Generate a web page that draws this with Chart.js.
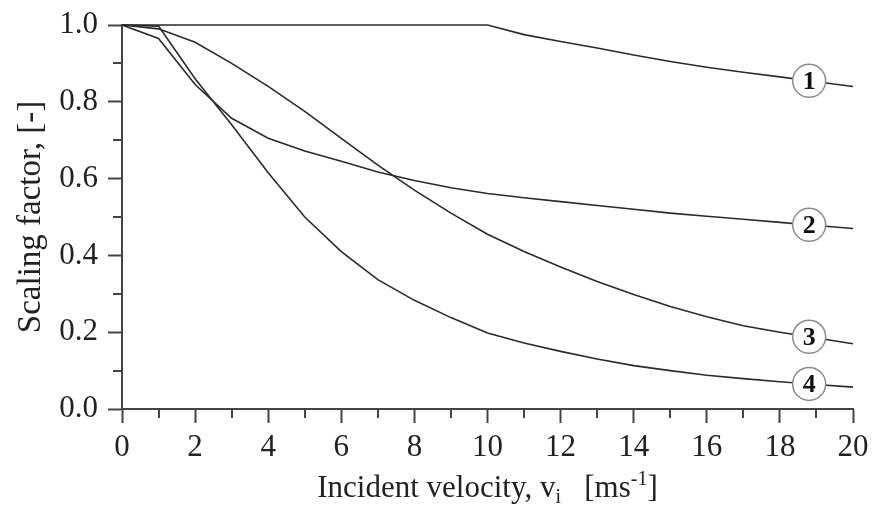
<!DOCTYPE html>
<html>
<head>
<meta charset="utf-8">
<script src="https://cdn.jsdelivr.net/npm/chart.js@4.4.1/dist/chart.umd.min.js"></script>
<style>
  html, body { margin: 0; padding: 0; background: #fff; }
</style>
</head>
<body>
<canvas id="chart" width="872" height="509"></canvas>
<script>
// incident velocity (x) and scaling factor of each curve (y)
const velocity = [0, 1, 2, 3, 4, 5, 6, 7, 8, 9, 10, 11, 12, 13, 14, 15, 16, 17, 18, 19, 20];
const curve1 = [1, 1, 1, 1, 1, 1, 1, 1, 1, 1, 1, 0.975, 0.957, 0.94, 0.922, 0.905, 0.89, 0.877, 0.865, 0.852, 0.84];
const curve2 = [1, 0.965, 0.845, 0.757, 0.705, 0.672, 0.645, 0.617, 0.595, 0.576, 0.561, 0.55, 0.54, 0.53, 0.52, 0.51, 0.502, 0.494, 0.486, 0.478, 0.47];
const curve3 = [1, 0.99, 0.955, 0.9, 0.84, 0.775, 0.705, 0.635, 0.57, 0.51, 0.455, 0.41, 0.37, 0.332, 0.298, 0.267, 0.24, 0.217, 0.2, 0.185, 0.17];
const curve4 = [1, 0.997, 0.86, 0.74, 0.615, 0.5, 0.41, 0.337, 0.283, 0.238, 0.198, 0.172, 0.15, 0.13, 0.113, 0.1, 0.088, 0.079, 0.071, 0.064, 0.057];
const curveLabels = ['1', '2', '3', '4'];
const labelAt = 18.8; // velocity where the numbered circles sit

const serif = '"Liberation Serif", "DejaVu Serif", serif';
const ink = '#222';
const axisGrey = '#444';

function toPoints(ys) {
  return velocity.map((v, i) => ({ x: v, y: ys[i] }));
}

function lineSet(ys) {
  return {
    data: toPoints(ys),
    borderColor: '#2a2a2a',
    borderWidth: 1.6,
    pointRadius: 0,
    tension: 0,
    clip: false
  };
}

// minor ticks, numbered circles, axis titles
const decorations = {
  id: 'decorations',
  afterDatasetsDraw(chart) {
    const { ctx, scales: { x, y }, chartArea } = chart;
    ctx.save();

    // minor ticks (odd x, odd tenths of y)
    ctx.strokeStyle = axisGrey;
    ctx.lineWidth = 2;
    ctx.beginPath();
    for (let v = 1; v < 20; v += 2) {
      const px = Math.round(x.getPixelForValue(v));
      ctx.moveTo(px, chartArea.bottom);
      ctx.lineTo(px, chartArea.bottom + 9);
    }
    for (let k = 1; k < 10; k += 2) {
      const py = Math.round(y.getPixelForValue(k / 10));
      ctx.moveTo(chartArea.left, py);
      ctx.lineTo(chartArea.left - 9, py);
    }
    ctx.stroke();

    // numbered circles on each curve
    chart.data.datasets.forEach((ds, i) => {
      const pts = ds.data;
      let yv = pts[pts.length - 1].y;
      for (let j = 0; j < pts.length - 1; j++) {
        if (labelAt >= pts[j].x && labelAt <= pts[j + 1].x) {
          const t = (labelAt - pts[j].x) / (pts[j + 1].x - pts[j].x);
          yv = pts[j].y + t * (pts[j + 1].y - pts[j].y);
          break;
        }
      }
      const cx = x.getPixelForValue(labelAt);
      const cy = y.getPixelForValue(yv);
      ctx.beginPath();
      ctx.arc(cx, cy, 16.5, 0, Math.PI * 2);
      ctx.fillStyle = '#fff';
      ctx.fill();
      ctx.lineWidth = 1.5;
      ctx.strokeStyle = '#8a8a8a';
      ctx.stroke();
      ctx.fillStyle = '#111';
      ctx.font = 'bold 26px ' + serif;
      ctx.textAlign = 'center';
      ctx.textBaseline = 'middle';
      ctx.fillText(curveLabels[i], cx, cy + 1);
    });

    // y axis title
    ctx.fillStyle = ink;
    ctx.font = '33px ' + serif;
    ctx.textAlign = 'center';
    ctx.textBaseline = 'alphabetic';
    ctx.save();
    ctx.translate(40, (chartArea.top + chartArea.bottom) / 2);
    ctx.rotate(-Math.PI / 2);
    ctx.fillText('Scaling factor, [-]', 0, 0);
    ctx.restore();

    // x axis title with subscript / superscript
    const parts = [
      { t: 'Incident velocity, v', size: 31, dy: 0 },
      { t: 'i', size: 20, dy: 6 },
      { t: '   [ms', size: 31, dy: 0 },
      { t: '-1', size: 20, dy: -12 },
      { t: ']', size: 31, dy: 0 }
    ];
    let total = 0;
    parts.forEach(p => {
      ctx.font = p.size + 'px ' + serif;
      p.w = ctx.measureText(p.t).width;
      total += p.w;
    });
    let sx = (chartArea.left + chartArea.right) / 2 - total / 2;
    ctx.textAlign = 'left';
    parts.forEach(p => {
      ctx.font = p.size + 'px ' + serif;
      ctx.fillText(p.t, sx, 497 + p.dy);
      sx += p.w;
    });

    ctx.restore();
  }
};

new Chart(document.getElementById('chart'), {
  type: 'line',
  data: {
    datasets: [lineSet(curve1), lineSet(curve2), lineSet(curve3), lineSet(curve4)]
  },
  options: {
    responsive: false,
    animation: false,
    layout: { padding: { top: 25, right: 19, left: 0, bottom: 0 } },
    plugins: { legend: { display: false }, tooltip: { enabled: false } },
    scales: {
      x: {
        type: 'linear',
        min: 0,
        max: 20,
        afterFit(scale) {
          scale.height = 100;
          scale.paddingLeft = 0;
          scale.paddingRight = 0;
        },
        ticks: {
          stepSize: 1,
          autoSkip: false,
          maxRotation: 0,
          padding: 6,
          color: ink,
          font: { family: serif, size: 31 },
          callback: v => (v % 2 === 0 ? v : '')
        },
        grid: {
          drawOnChartArea: false,
          tickLength: 14,
          tickWidth: 2,
          tickColor: c => (c.tick && c.tick.value % 2 !== 0 ? 'rgba(0,0,0,0)' : axisGrey)
        },
        border: { color: axisGrey, width: 2 }
      },
      y: {
        min: 0,
        max: 1,
        afterFit(scale) {
          scale.width = 122;
          scale.paddingTop = 0;
          scale.paddingBottom = 0;
        },
        ticks: {
          stepSize: 0.1,
          padding: 10,
          color: ink,
          font: { family: serif, size: 31 },
          callback: v => (Math.round(v * 10) % 2 === 0 ? v.toFixed(1) : '')
        },
        grid: {
          drawOnChartArea: false,
          tickLength: 14,
          tickWidth: 2,
          tickColor: c => (c.tick && Math.round(c.tick.value * 10) % 2 !== 0 ? 'rgba(0,0,0,0)' : axisGrey)
        },
        border: { color: axisGrey, width: 2 }
      }
    }
  },
  plugins: [decorations]
});
</script>
</body>
</html>
